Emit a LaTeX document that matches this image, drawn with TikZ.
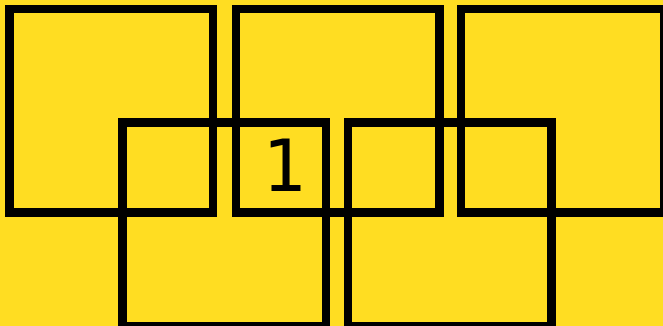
\documentclass[tikz,border=0pt]{standalone}
\usepackage{fontspec}
\newfontfamily\digitfont{DejaVu Sans Mono}
\definecolor{bgyellow}{HTML}{FFDD22}
\tikzset{
  sq/.style={draw=black, line width=8.5pt, rectangle, inner sep=0pt, minimum width=203.5pt, minimum height=203.5pt},
  lbl/.style={inner sep=0pt, text=black, font=\digitfont\fontsize{72}{72}\selectfont}
}
\begin{document}
\begin{tikzpicture}[x=1pt,y=-1pt]
\useasboundingbox (0,0) rectangle (663,326);
\fill[bgyellow] (0,0) rectangle (663,326);
\clip (0,0) rectangle (663,326);
\node[sq] (t1) at (111.25,110.75) {};
\node[sq] (t2) at (337.5,110.75) {};
\node[sq] (t3) at (562.75,110.75) {};
\node[sq] (b1) at (224.25,224.25) {};
\node[sq] (b2) at (449.75,224.25) {};
\node[lbl] (one) at (283.7,165) {1};
\end{tikzpicture}
\end{document}
